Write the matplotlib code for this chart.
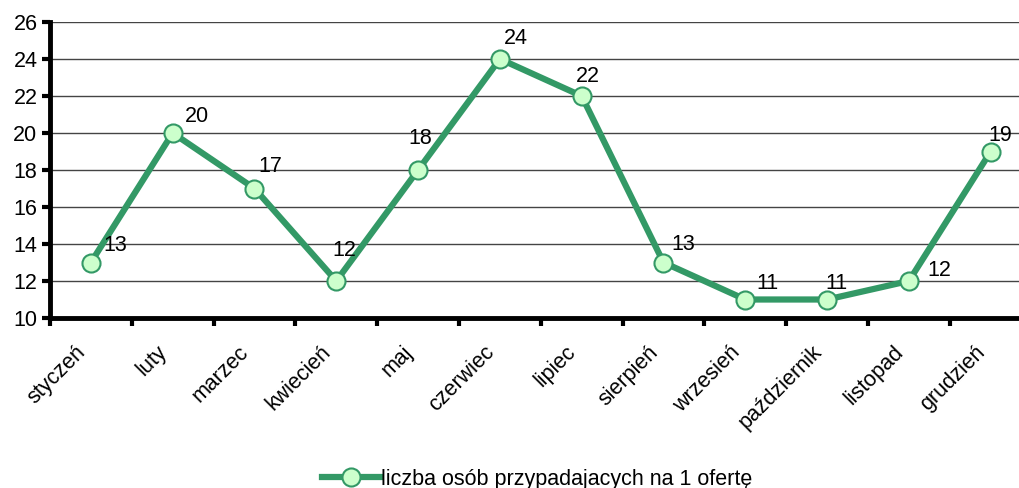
import matplotlib
matplotlib.use("Agg")
import matplotlib.pyplot as plt
import matplotlib.transforms as mtransforms
import numpy as np

plt.rcParams["font.family"] = ["Liberation Sans", "DejaVu Sans"]

months = ["styczeń", "luty", "marzec", "kwiecień", "maj", "czerwiec",
          "lipiec", "sierpień", "wrzesień", "październik", "listopad", "grudzień"]
values = [13, 20, 17, 12, 18, 24, 22, 13, 11, 11, 12, 19]
series_name = "liczba osób przypadajacych na 1 ofertę"

# label nudges in pixels (dx right, dy up), label centre relative to point
label_dx = [24, 24, 16, 8, 2, 16, 6, 20, 22, 9, 30, 10]
label_dy = [17, 16, 22, 31, 32, 21, 19, 18, 16, 16, 11, 16]

GREEN = "#339966"
LIGHT = "#CCFFCC"
FS = 15.5

fig = plt.figure(figsize=(10.19, 4.88), dpi=100)
ax = fig.add_axes([50 / 1019, 170 / 488, 981.6 / 1019, 296 / 488])

x = np.arange(len(months))
ax.plot(x, values, color=GREEN, lw=4.5, marker="o", ms=13,
        mfc=LIGHT, mec=GREEN, mew=1.5, label=series_name,
        solid_joinstyle="round", zorder=3)

px = 72 / fig.dpi
for xi, v, dx, dy in zip(x, values, label_dx, label_dy):
    ax.annotate(str(v), (xi, v), xytext=(dx * px, dy * px), textcoords="offset points",
                fontsize=FS, ha="center", va="center", zorder=4)

ax.set_xlim(-0.5, 11.5)
ax.set_ylim(10, 26)
ax.set_yticks(range(10, 27, 2))
ax.yaxis.grid(True, color="#444444", lw=1)
ax.set_axisbelow(True)

ax.set_xticks(np.arange(-0.5, 12, 1))
ax.set_xticklabels([])
ax.set_xticks(x, minor=True)
ax.set_xticklabels(months, minor=True, rotation=45, ha="right",
                   rotation_mode="anchor", fontsize=FS)
ax.tick_params(axis="x", which="minor", length=0, pad=12)
ax.tick_params(axis="x", which="major", length=6, width=3, direction="out")
ax.tick_params(axis="y", length=6, width=3, labelsize=FS, pad=3)

# nudge month labels left/down a bit (after tick_params, which resets transforms)
shift = mtransforms.ScaledTranslation(-16 / 100, -7 / 100, fig.dpi_scale_trans)
for tick in ax.xaxis.get_minor_ticks():
    tick.label1.set_transform(tick.label1.get_transform() + shift)

for s in ["top", "right"]:
    ax.spines[s].set_visible(False)
for s in ["left", "bottom"]:
    ax.spines[s].set_linewidth(3.5)

fig.legend(loc="lower center", bbox_to_anchor=(0.527, -0.043), frameon=False,
           fontsize=FS, handlelength=2.7, handletextpad=0.05)

fig.savefig("out.png", dpi=100)
